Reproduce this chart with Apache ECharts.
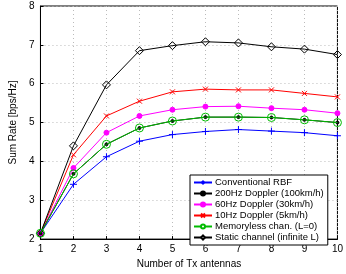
<!DOCTYPE html>
<html>
<head>
<meta charset="utf-8">
<script src="https://cdn.jsdelivr.net/npm/echarts@6/dist/echarts.min.js"></script>
<style>
html,body{margin:0;padding:0;background:#fff;}
#main{width:346px;height:274px;}
</style>
</head>
<body>
<div id="main"></div>
<script>
// x: number of Tx antennas
var antennas = [1, 2, 3, 4, 5, 6, 7, 8, 9, 10];

var rbf       = [2.15, 3.41, 4.12, 4.52, 4.69, 4.77, 4.82, 4.78, 4.74, 4.66];
var dop200    = [2.15, 3.68, 4.44, 4.86, 5.04, 5.14, 5.14, 5.13, 5.07, 5.00];
var dop60     = [2.15, 3.83, 4.74, 5.17, 5.33, 5.41, 5.42, 5.37, 5.33, 5.24];
var dop10     = [2.15, 4.17, 5.17, 5.55, 5.79, 5.86, 5.84, 5.84, 5.75, 5.66];
var memless   = [2.15, 3.68, 4.44, 4.86, 5.04, 5.14, 5.14, 5.13, 5.07, 5.00];
var staticCh  = [2.15, 4.40, 5.97, 6.85, 6.98, 7.08, 7.05, 6.95, 6.89, 6.75];

var names = ['Conventional RBF', '200Hz Doppler (100km/h)', '60Hz Doppler (30km/h)',
	'10Hz Doppler (5km/h)', 'Memoryless chan. (L=0)', 'Static channel (infinite L)'];
var hollow = [true, false, false, true, true, true];//图例中空心的符号

function pairs(arr){//组合成 [x,y]
	return arr.map(function(v, i){ return [antennas[i], v]; });
}

var plusPath = 'path://M5,0L5,10M0,5L10,5';
var crossPath = 'path://M0,0L10,10M10,0L0,10';

function mk(name, data, color, symbol, size, fill, z){
	return {
		name: name,
		type: 'line',
		data: pairs(data),
		symbol: symbol,
		symbolSize: size,
		z: z,
		lineStyle: {color: color, width: 1},
		itemStyle: {color: fill, borderColor: color, borderWidth: 1},
		emphasis: {disabled: true},
		animation: false
	};
}

var myChart = echarts.init(document.getElementById('main'));
var option = {
	backgroundColor: '#fff',
	textStyle: {fontFamily: 'Liberation Sans, Arial, sans-serif'},
	grid: {left: 31, right: 8, top: 6, bottom: 25, show: true, borderColor: '#000', borderWidth: 1},
	legend: {
		orient: 'vertical',
		left: 190, top: 175,
		padding: [2, 4, 2, 3],
		itemGap: 0,
		itemWidth: 18,
		itemHeight: 5,
		backgroundColor: '#fff',
		borderColor: '#000',
		borderWidth: 1,
		textStyle: {fontSize: 9.5, lineHeight: 11, color: '#000', padding: [0, 0, 0, -2]},
		data: names.map(function(n, i){
			return hollow[i] ? {name: n, itemStyle: {color: '#fff'}} : {name: n};
		})
	},
	xAxis: {
		type: 'value', min: 1, max: 10, interval: 1,
		name: 'Number of Tx antennas', nameLocation: 'middle', nameGap: 16,
		nameTextStyle: {fontSize: 10, color: '#000'},
		axisLine: {lineStyle: {color: '#000'}},
		axisTick: {inside: true, length: 3, lineStyle: {color: '#000'}},
		axisLabel: {fontSize: 10, color: '#000', margin: 5},
		splitLine: {show: true, lineStyle: {color: '#bbb', type: [1, 3]}}
	},
	yAxis: {
		type: 'value', min: 2, max: 8, interval: 1,
		name: 'Sum Rate [bps/Hz]', nameLocation: 'middle', nameGap: 21,
		nameTextStyle: {fontSize: 10, color: '#000'},
		axisLine: {lineStyle: {color: '#000'}},
		axisTick: {inside: true, length: 3, lineStyle: {color: '#000'}},
		axisLabel: {fontSize: 10, color: '#000', margin: 6},
		splitLine: {show: true, lineStyle: {color: '#bbb', type: [1, 3]}}
	},
	series: [
		mk(names[0], rbf, '#0000ff', plusPath, 7, 'none', 2),
		mk(names[1], dop200, '#000000', 'circle', 3, '#000', 3),
		mk(names[2], dop60, '#ff00ff', 'circle', 5, '#ff00ff', 2),
		mk(names[3], dop10, '#ff0000', crossPath, 5, 'none', 2),
		mk(names[4], memless, '#00bb00', 'circle', 8, 'none', 4),
		mk(names[5], staticCh, '#000000', 'diamond', 8, 'none', 2)
	]
};
myChart.setOption(option);
</script>
</body>
</html>
